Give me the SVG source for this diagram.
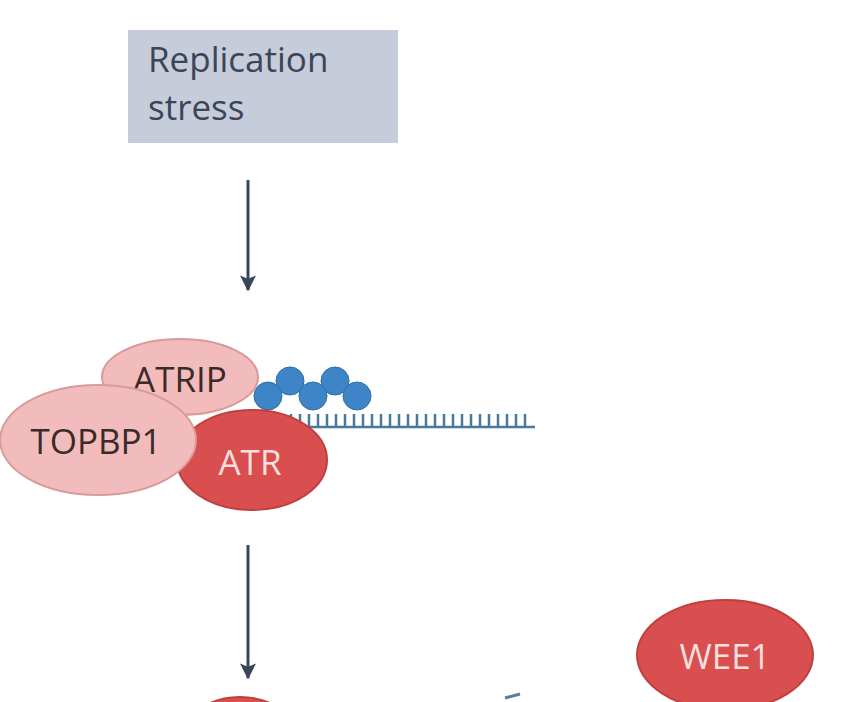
<svg xmlns="http://www.w3.org/2000/svg" width="858" height="702" viewBox="0 0 858 702">
<style>
.t{font-family:"Open Sans","Liberation Sans",sans-serif}
.lt{fill:#f3bcbc;stroke:#d89a9a;stroke-width:2}
.dk{fill:#d94f4f;stroke:#c04040;stroke-width:2}
.b{fill:#3d85c6;stroke:#2e6ea8;stroke-width:1}
</style>
<defs><marker id="ah" markerWidth="18" markerHeight="16" refX="9" refY="5" orient="auto" markerUnits="userSpaceOnUse" viewBox="0 0 10 10"><path d="M0,0 L10,5 L0,10 L2,5 z" fill="#3a4658"/></marker></defs>
<rect width="858" height="702" fill="#fff"/>
<g id="stress"><rect x="128" y="30" width="270" height="113" fill="#c6ccda"/>
<text class="t" x="148" y="72" font-size="35" fill="#3a4658">Replication</text>
<text class="t" x="148" y="120" font-size="35" fill="#3a4658">stress</text></g>
<g id="connectors" stroke="#3a4658" stroke-width="3">
<line x1="248" y1="180" x2="248" y2="290" marker-end="url(#ah)"/>
<line x1="248" y1="545" x2="248" y2="678" marker-end="url(#ah)"/>
</g>
<g id="dna" stroke="#4a7a9a" stroke-width="2.5">
<line x1="262" y1="427" x2="535" y2="427"/>
<path d="M282,414v13M291,414v13M300,414v13M309,414v13M318,414v13M327,414v13M336,414v13M345,414v13M354,414v13M363,414v13M372,414v13M381,414v13M390,414v13M399,414v13M408,414v13M417,414v13M426,414v13M435,414v13M444,414v13M453,414v13M462,414v13M471,414v13M480,414v13M489,414v13M498,414v13M507,414v13M516,414v13M525,414v13"/>
</g>
<g id="rpa">
<circle class="b" cx="290" cy="381" r="14"/><circle class="b" cx="335" cy="381" r="14"/>
<circle class="b" cx="268" cy="396" r="14"/><circle class="b" cx="313" cy="396" r="14"/><circle class="b" cx="357" cy="396" r="14"/>
</g>
<g id="atrip"><ellipse class="lt" cx="180" cy="377" rx="78" ry="38"/>
<text class="t" x="180" y="392" font-size="35" text-anchor="middle" fill="#3a2a2a">ATRIP</text></g>
<g id="atr"><ellipse class="dk" cx="252" cy="460" rx="75" ry="50"/>
<text class="t" x="250" y="475" font-size="35" text-anchor="middle" fill="#f8dede">ATR</text></g>
<g id="topbp1"><ellipse class="lt" cx="98" cy="440" rx="98" ry="55"/>
<text class="t" x="96" y="454" font-size="35" text-anchor="middle" fill="#3a2a2a">TOPBP1</text></g>
<g id="wee1"><ellipse class="dk" cx="725" cy="655" rx="88" ry="55"/>
<text class="t" x="725" y="669" font-size="35" text-anchor="middle" fill="#f8dede">WEE1</text></g>
<g id="bottom"><ellipse class="dk" cx="240" cy="735" rx="55" ry="38"/>
<path d="M505,698 L520,694" stroke="#5a7a9a" stroke-width="3"/></g>
</svg>
